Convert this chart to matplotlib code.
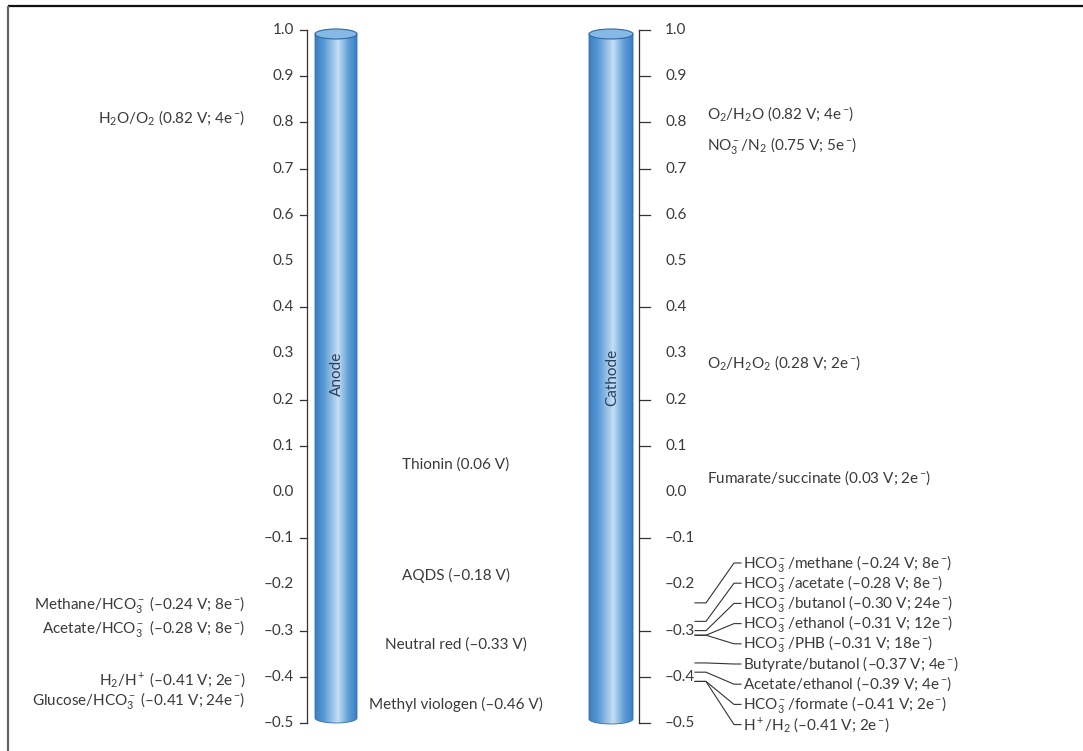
import numpy as np
import matplotlib
matplotlib.use("Agg")
import matplotlib.pyplot as plt
from matplotlib.patches import Ellipse, Polygon
from matplotlib.colors import LinearSegmentedColormap

plt.rcParams['font.family'] = ['Lato', 'DejaVu Sans']
plt.rcParams['mathtext.fontset'] = 'custom'
plt.rcParams['mathtext.rm'] = 'Lato'
plt.rcParams['mathtext.it'] = 'Lato:italic'
plt.rcParams['mathtext.bf'] = 'Lato:bold'

# potential scale (V vs SHE)
tick_values = [1.0, 0.9, 0.8, 0.7, 0.6, 0.5, 0.4, 0.3, 0.2, 0.1, 0.0, -0.1, -0.2, -0.3, -0.4, -0.5]
tick_marked = [1.0, 0.9, 0.8, 0.7, 0.6, 0.4, 0.2, 0.1, -0.1, -0.3, -0.4, -0.5]

# anode side couples
anode_labels = [r'H$_2$O/O$_2$ (0.82 V; 4e$^-\!$)',
                r'Methane/HCO$_3^-$ (–0.24 V; 8e$^-\!$)',
                r'Acetate/HCO$_3^-$ (–0.28 V; 8e$^-\!$)',
                r'H$_2$/H$^+$ (–0.41 V; 2e$^-\!$)',
                r'Glucose/HCO$_3^-$ (–0.41 V; 24e$^-\!$)']
anode_values = [0.82, -0.24, -0.28, -0.41, -0.41]

# mediators
mediator_labels = ['Thionin (0.06 V)', 'AQDS (–0.18 V)', 'Neutral red (–0.33 V)', 'Methyl viologen (–0.46 V)']
mediator_values = [0.06, -0.18, -0.33, -0.46]

# cathode side couples, placed next to the scale
cathode_labels = [r'O$_2$/H$_2$O (0.82 V; 4e$^-\!$)',
                  r'NO$_3^-$/N$_2$ (0.75 V; 5e$^-\!$)',
                  r'O$_2$/H$_2$O$_2$ (0.28 V; 2e$^-\!$)',
                  r'Fumarate/succinate (0.03 V; 2e$^-\!$)']
cathode_values = [0.82, 0.75, 0.28, 0.03]

# cathode side couples with leader lines
leader_labels = [r'HCO$_3^-$/methane (–0.24 V; 8e$^-\!$)',
                 r'HCO$_3^-$/acetate (–0.28 V; 8e$^-\!$)',
                 r'HCO$_3^-$/butanol (–0.30 V; 24e$^-\!$)',
                 r'HCO$_3^-$/ethanol (–0.31 V; 12e$^-\!$)',
                 r'HCO$_3^-$/PHB (–0.31 V; 18e$^-\!$)',
                 r'Butyrate/butanol (–0.37 V; 4e$^-\!$)',
                 r'Acetate/ethanol (–0.39 V; 4e$^-\!$)',
                 r'HCO$_3^-$/formate (–0.41 V; 2e$^-\!$)',
                 r'H$^+$/H$_2$ (–0.41 V; 2e$^-\!$)']
leader_values = [-0.24, -0.28, -0.30, -0.31, -0.31, -0.37, -0.39, -0.41, -0.41]


# layout: x in pixels, y in volts (1.0 V at 30 px from top, 462 px per volt)
PX_PER_V = 462.0
def v_at(py):
    return 1.0 - (py - 30) / PX_PER_V

TXT = '#3a3a3a'
FS = 11

fig = plt.figure(figsize=(10.83, 7.51), dpi=100)
ax = fig.add_axes([0, 0, 1, 1])
ax.set_xlim(0, 1083)
ax.set_ylim(v_at(751), v_at(0))
ax.axis('off')

# frame (top and left only, as cropped)
ax.plot([8, 1083], [v_at(6), v_at(6)], color='#111111', lw=1.6, solid_capstyle='butt')
ax.plot([8, 8], [v_at(6), v_at(751)], color='#666666', lw=1.6, solid_capstyle='butt')

cmap = LinearSegmentedColormap.from_list('cyl', [(0.0, '#3b80c2'), (0.2, '#5596d3'),
                                                 (0.55, '#c6def4'), (0.8, '#5f9dd7'),
                                                 (1.0, '#3a7ec0')])

def cylinder(x0, x1, top_px, bot_px):
    cx = (x0 + x1) / 2
    rx = (x1 - x0) / 2
    ry = 5 / PX_PER_V
    vt, vb = v_at(top_px), v_at(bot_px)
    t = np.linspace(np.pi, 2 * np.pi, 40)
    pts = [(x0, vt)] + list(zip(cx + rx * np.cos(t), vb + ry * np.sin(t))) + [(x1, vt)]
    body = Polygon(pts, closed=True, facecolor='none', edgecolor='#2f6eac', lw=0.6, zorder=3)
    ax.add_patch(body)
    grad = np.linspace(0, 1, 256).reshape(1, -1)
    im = ax.imshow(grad, cmap=cmap, extent=(x0, x1, vb - ry, vt), aspect='auto', zorder=2)
    im.set_clip_path(body)
    cap = Ellipse((cx, vt), x1 - x0, 2 * ry, facecolor='#86b9e6', edgecolor='#2c69a5', lw=0.8, zorder=4)
    ax.add_patch(cap)
    return cx

anode_cx = cylinder(315, 357, 34, 718)
cathode_cx = cylinder(589, 633, 34, 719)
ax.text(anode_cx + 1, v_at(374), 'Anode', rotation=90, ha='center', va='center', fontsize=FS, color='#2b3f5a', zorder=5)
ax.text(cathode_cx + 1, v_at(377), 'Cathode', rotation=90, ha='center', va='center', fontsize=FS, color='#2b3f5a', zorder=5)

# anode scale (ticks to the left)
ax.plot([307, 307], [1.0, -0.5], color='#333333', lw=0.9)
for v in tick_marked:
    ax.plot([300, 307], [v, v], color='#333333', lw=0.9)
for v in tick_values:
    ax.text(294, v, f'{v:.1f}'.replace('-', '–'), ha='right', va='center', fontsize=FS, color=TXT)

# cathode scale (ticks to the right)
ax.plot([639, 639], [1.0, -0.5], color='#333333', lw=0.9)
for v in tick_marked:
    ax.plot([639, 650], [v, v], color='#333333', lw=0.9)
for v in tick_values:
    ax.text(665, v, f'{v:.1f}'.replace('-', '–'), ha='left', va='center', fontsize=FS, color=TXT)

# anode couples (right aligned, nudged to avoid overlap)
anode_nudge = [-0.01, -0.003, -0.015, 0.005, -0.041]
for lab, v, dv in zip(anode_labels, anode_values, anode_nudge):
    ax.text(245, v + dv, lab, ha='right', va='center', fontsize=FS, color=TXT)

for lab, v in zip(mediator_labels, mediator_values):
    ax.text(456, v, lab, ha='center', va='center', fontsize=FS, color=TXT)

for lab, v in zip(cathode_labels, cathode_values):
    ax.text(707, v, lab, ha='left', va='center', fontsize=FS, color=TXT)

# stacked labels with leader lines
stack_top = v_at(563)
stack_step = 20.2 / PX_PER_V
for i, (lab, v) in enumerate(zip(leader_labels, leader_values)):
    ly = stack_top - i * stack_step
    ax.plot([695, 706, 734, 741], [v, v, ly, ly], color='#333333', lw=0.8)
    ax.text(743, ly, lab, ha='left', va='center', fontsize=FS, color=TXT)

fig.savefig('out.png', dpi=100)
